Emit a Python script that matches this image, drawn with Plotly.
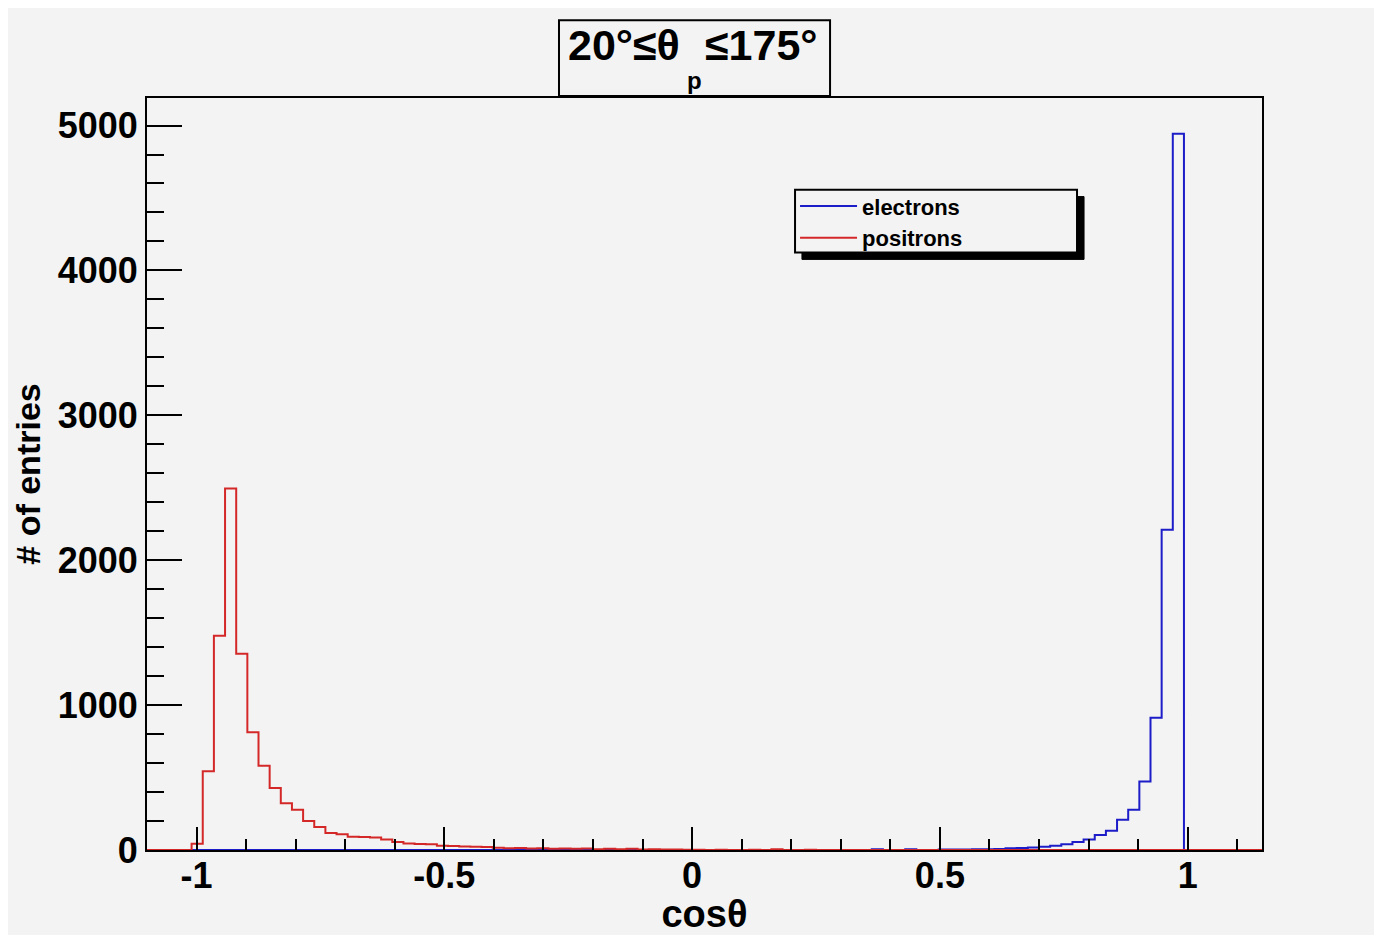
import numpy as np
import plotly.graph_objects as go

# ---- data: 100 bins of cos(theta) from -1.1 to 1.15 ----
x_min, x_max, n_bins = -1.1, 1.15, 100

positrons = [
    0, 0, 0, 0, 43, 543, 1479, 2495, 1355, 812,
    582, 428, 323, 277, 200, 158, 117, 108, 92, 90,
    86, 72, 55, 45, 42, 40, 30, 28, 25, 22,
    20, 15, 12, 14, 10, 12, 9, 11, 8, 10,
    6, 9, 5, 8, 4, 6, 3, 4, 2, 1,
    0, 1, 0, 0, 1, 0, 6, 0, 0, 1,
    0, 0, 0, 0, 0, 0, 0, 0, 0, 0,
    0, 0, 0, 0, 0, 0, 0, 0, 0, 0,
    0, 0, 0, 0, 0, 0, 0, 0, 0, 0,
    0, 0, 0, 0, 0, 0, 0, 0, 0, 0,
]

electrons = [
    0, 0, 0, 0, 0, 0, 0, 0, 0, 0,
    0, 0, 0, 0, 0, 0, 0, 0, 0, 0,
    0, 0, 0, 0, 0, 0, 0, 0, 0, 0,
    0, 0, 0, 0, 0, 0, 0, 0, 0, 0,
    0, 0, 0, 0, 0, 0, 0, 0, 0, 0,
    0, 0, 0, 0, 0, 0, 0, 0, 0, 0,
    0, 0, 0, 0, 0, 5, 0, 0, 5, 0,
    0, 3, 4, 4, 5, 6, 7, 12, 13, 18,
    22, 30, 40, 55, 72, 103, 133, 208, 277, 472,
    913, 2210, 4943, 0, 0, 0, 0, 0, 0, 0,
]

series_names = ["electrons", "positrons"]
x_tick_vals = [-1, -0.5, 0, 0.5, 1]
x_tick_text = ["-1", "-0.5", "0", "0.5", "1"]
y_tick_vals = [0, 1000, 2000, 3000, 4000, 5000]
y_tick_text = ["0", "1000", "2000", "3000", "4000", "5000"]
title_left, title_sub, title_right = "20°≤θ", "p", "≤175°"

edges = np.linspace(x_min, x_max, n_bins + 1)


def step_xy(values):
    xs = list(edges)
    ys = list(values) + [values[-1]]
    return xs, ys


BG = "#f3f3f3"
FONT = "Liberation Sans, Arial, Helvetica, sans-serif"

fig = go.Figure()
for name, vals, col in [
    (series_names[0], electrons, "#1c1cc8"),
    (series_names[1], positrons, "#d42828"),
]:
    xs, ys = step_xy(vals)
    fig.add_trace(go.Scatter(
        x=xs, y=ys, mode="lines", name=name,
        line=dict(color=col, width=2, shape="hv"),
    ))

fig.update_layout(
    width=1366, height=927,
    margin=dict(l=139, r=112, t=90, b=82),
    paper_bgcolor=BG, plot_bgcolor=BG,
    font=dict(family=FONT, color="black"),
    showlegend=True,
    legend=dict(
        x=0.5812, y=0.884, xanchor="left", yanchor="top",
        bgcolor="rgba(0,0,0,0)", borderwidth=0,
        font=dict(family=FONT, size=22, weight="bold", color="black"),
        itemwidth=57, tracegroupgap=0,
    ),
    xaxis=dict(
        range=[x_min, x_max], showgrid=False, zeroline=False,
        showline=True, linecolor="black", linewidth=2, mirror=True,
        ticks="inside", ticklen=23, tickwidth=1.5, tickcolor="black",
        tickvals=x_tick_vals, ticktext=x_tick_text,
        tickfont=dict(family=FONT, size=36, weight="bold"),
        ticklabelstandoff=-7,
        minor=dict(dtick=0.1, tick0=0, ticks="inside", ticklen=11,
                   tickwidth=1.5, tickcolor="black", showgrid=False),
        title=dict(text="cosθ", font=dict(family=FONT, size=38, weight="bold"),
                   standoff=0),
    ),
    yaxis=dict(
        range=[0, 5190], showgrid=False, zeroline=False,
        showline=True, linecolor="black", linewidth=2, mirror=True,
        ticks="inside", ticklen=35, tickwidth=1.5, tickcolor="black",
        tickvals=y_tick_vals, ticktext=y_tick_text,
        tickfont=dict(family=FONT, size=36, weight="bold"),
        minor=dict(dtick=200, tick0=0, ticks="inside", ticklen=17,
                   tickwidth=1.5, tickcolor="black", showgrid=False),
        title=dict(text="# of entries", font=dict(family=FONT, size=34, weight="bold"),
                   standoff=7),
    ),
)

# legend frame with drop shadow
fig.add_shape(type="rect", xref="paper", yref="paper",
              x0=0.5874, x1=0.8404, y0=0.7854, y1=0.8689,
              fillcolor="black", line=dict(color="black", width=1), layer="above")
fig.add_shape(type="rect", xref="paper", yref="paper",
              x0=0.5812, x1=0.8341, y0=0.7947, y1=0.8781,
              fillcolor=BG, line=dict(color="black", width=2), layer="above")

# title box
fig.add_shape(type="rect", xref="paper", yref="paper",
              x0=0.3695, x1=0.6126, y0=1.0026, y1=1.1033,
              fillcolor="rgba(0,0,0,0)", line=dict(color="black", width=2),
              layer="above")
title_font = dict(family=FONT, size=43, weight="bold", color="black")
fig.add_annotation(xref="paper", yref="paper", x=0.4798, y=1.0702,
                   xanchor="right", yanchor="middle", showarrow=False,
                   text=title_left, font=title_font)
fig.add_annotation(xref="paper", yref="paper", x=0.4987, y=1.0702,
                   xanchor="left", yanchor="middle", showarrow=False,
                   text=title_right, font=title_font)
fig.add_annotation(xref="paper", yref="paper", x=0.4906, y=1.0238,
                   xanchor="center", yanchor="middle", showarrow=False,
                   text=title_sub,
                   font=dict(family=FONT, size=24, weight="bold", color="black"))

fig.write_html("out.html")
